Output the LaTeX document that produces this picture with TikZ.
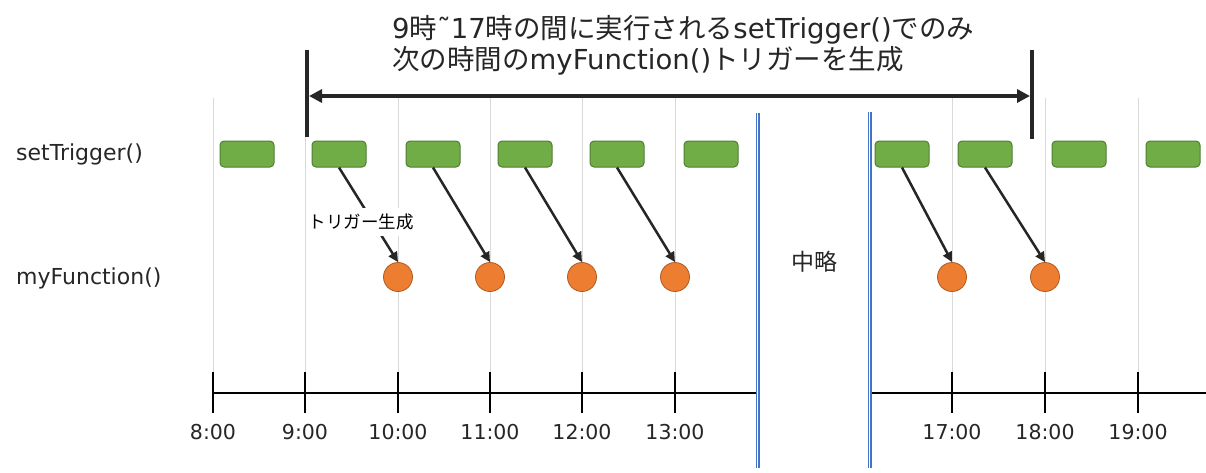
\documentclass[tikz,border=0pt]{standalone}
\usepackage{fontspec}
\setmainfont{DejaVu Sans}
\newfontfamily\jp{Noto Sans CJK JP}
\usetikzlibrary{arrows.meta}
\definecolor{gruen}{HTML}{70AD47}
\definecolor{gruenrand}{HTML}{507E32}
\definecolor{orange}{HTML}{ED7D31}
\definecolor{orangerand}{HTML}{AE5A21}
\definecolor{dunkel}{HTML}{262626}
\definecolor{gitterfarbe}{HTML}{D9D9D9}
\definecolor{blau}{HTML}{4472C4}

\begin{document}
\begin{tikzpicture} [ x=1pt, y=-1pt
								, kasten/.style={rectangle, rounded corners=4pt, minimum width=54pt, minimum height=26pt, inner sep=0pt, fill=gruen, draw=gruenrand, line width=1pt}
								, kreis/.style={circle, minimum size=29pt, inner sep=0pt, fill=orange, draw=orangerand, line width=0.8pt}
								, pfeilspitze/.style={draw=dunkel, line width=2.5pt, arrows={-Triangle[length=10pt, width=9.5pt]}}
								, grosspfeil/.style={draw=dunkel, line width=4pt, arrows={Triangle[length=13pt, width=13pt]-Triangle[length=13pt, width=13pt]}}
								, balken/.style={draw=dunkel, line width=3.5pt}
								, gitter/.style={draw=gitterfarbe, line width=1pt}
								, achse/.style={draw=black, line width=2pt}
								, bruch/.style={draw=blau, line width=1.2pt, double=white, double distance=1.6pt}
								, zeit/.style={font=\fontsize{20.5}{24}\selectfont, text=dunkel, inner sep=0pt}
								, zeile/.style={font=\fontsize{22}{26}\selectfont, text=dunkel, anchor=west, inner sep=0pt}
								]
	\useasboundingbox (0,0) rectangle (1206,472);

	% gitter
	\draw [gitter] (213,98) -- (213,372);
	\draw [gitter] (305,98) -- (305,372);
	\draw [gitter] (398,98) -- (398,372);
	\draw [gitter] (490,98) -- (490,372);
	\draw [gitter] (582,98) -- (582,372);
	\draw [gitter] (675,98) -- (675,372);
	\draw [gitter] (952,98) -- (952,372);
	\draw [gitter] (1045,98) -- (1045,372);
	\draw [gitter] (1138,98) -- (1138,372);

	% titel und spanne
	\node (Titel) [anchor=north west, align=left, inner sep=0pt, text=dunkel, font=\fontsize{27.5}{31}\selectfont] at (392,15) {9{\jp 時}˜17{\jp 時の間に実行される}setTrigger(){\jp でのみ}\\{\jp 次の時間の}myFunction(){\jp トリガーを生成}};
	\draw [balken] (307,50) -- (307,137);
	\draw [balken] (1032,50) -- (1032,139);
	\coordinate (von) at (309,96);
	\coordinate (bis) at (1030,96);
	\draw [grosspfeil] (von) -- (bis);

	% zeilen
	\node (setTrigger) [zeile] at (16,154) {setTrigger()};
	\node (myFunction) [zeile] at (16,278) {myFunction()};

	\node (s8)  [kasten] at (247,154) {};
	\node (s9)  [kasten] at (339,154) {};
	\node (s10) [kasten] at (433,154) {};
	\node (s11) [kasten] at (525,154) {};
	\node (s12) [kasten] at (617,154) {};
	\node (s13) [kasten] at (711,154) {};
	\node (s16) [kasten] at (902,154) {};
	\node (s17) [kasten] at (985,154) {};
	\node (s18) [kasten] at (1079,154) {};
	\node (s19) [kasten] at (1173,154) {};

	\node (f10) [kreis] at (398,277) {};
	\node (f11) [kreis] at (490,277) {};
	\node (f12) [kreis] at (582,277) {};
	\node (f13) [kreis] at (675,277) {};
	\node (f17) [kreis] at (952,277) {};
	\node (f18) [kreis] at (1045,277) {};

	\draw [pfeilspitze] (s9.south) -- (f10.north);
	\draw [pfeilspitze] (s10.south) -- (f11.north);
	\draw [pfeilspitze] (s11.south) -- (f12.north);
	\draw [pfeilspitze] (s12.south) -- (f13.north);
	\draw [pfeilspitze] (s16.south) -- (f17.north);
	\draw [pfeilspitze] (s17.south) -- (f18.north);

	\node (erzeugt) [fill=white, inner xsep=3pt, inner ysep=6pt, text=black, font=\jp\fontsize{17.5}{20}\selectfont] at (361,222) {トリガー生成};

	% zeitachse
	\draw [achse] (213,393) -- (757,393);
	\draw [achse] (869,393) -- (1206,393);
	\draw [achse] (213,372) -- (213,413);
	\draw [achse] (305,372) -- (305,413);
	\draw [achse] (398,372) -- (398,413);
	\draw [achse] (490,372) -- (490,413);
	\draw [achse] (582,372) -- (582,413);
	\draw [achse] (675,372) -- (675,413);
	\draw [achse] (952,372) -- (952,413);
	\draw [achse] (1045,372) -- (1045,413);
	\draw [achse] (1138,372) -- (1138,413);

	\node (t8)  [zeit] at (213,432) {8:00};
	\node (t9)  [zeit] at (305,432) {9:00};
	\node (t10) [zeit] at (398,432) {10:00};
	\node (t11) [zeit] at (490,432) {11:00};
	\node (t12) [zeit] at (582,432) {12:00};
	\node (t13) [zeit] at (675,432) {13:00};
	\node (t17) [zeit] at (952,432) {17:00};
	\node (t18) [zeit] at (1045,432) {18:00};
	\node (t19) [zeit] at (1138,432) {19:00};

	% auslassung
	\draw [bruch] (757.5,113) -- (757.5,468);
	\draw [bruch] (869.5,112) -- (869.5,468);
	\node (Mitte) [zeit, font=\jp\fontsize{23}{26}\selectfont] at (814,262) {中略};

\end{tikzpicture}
\end{document}
